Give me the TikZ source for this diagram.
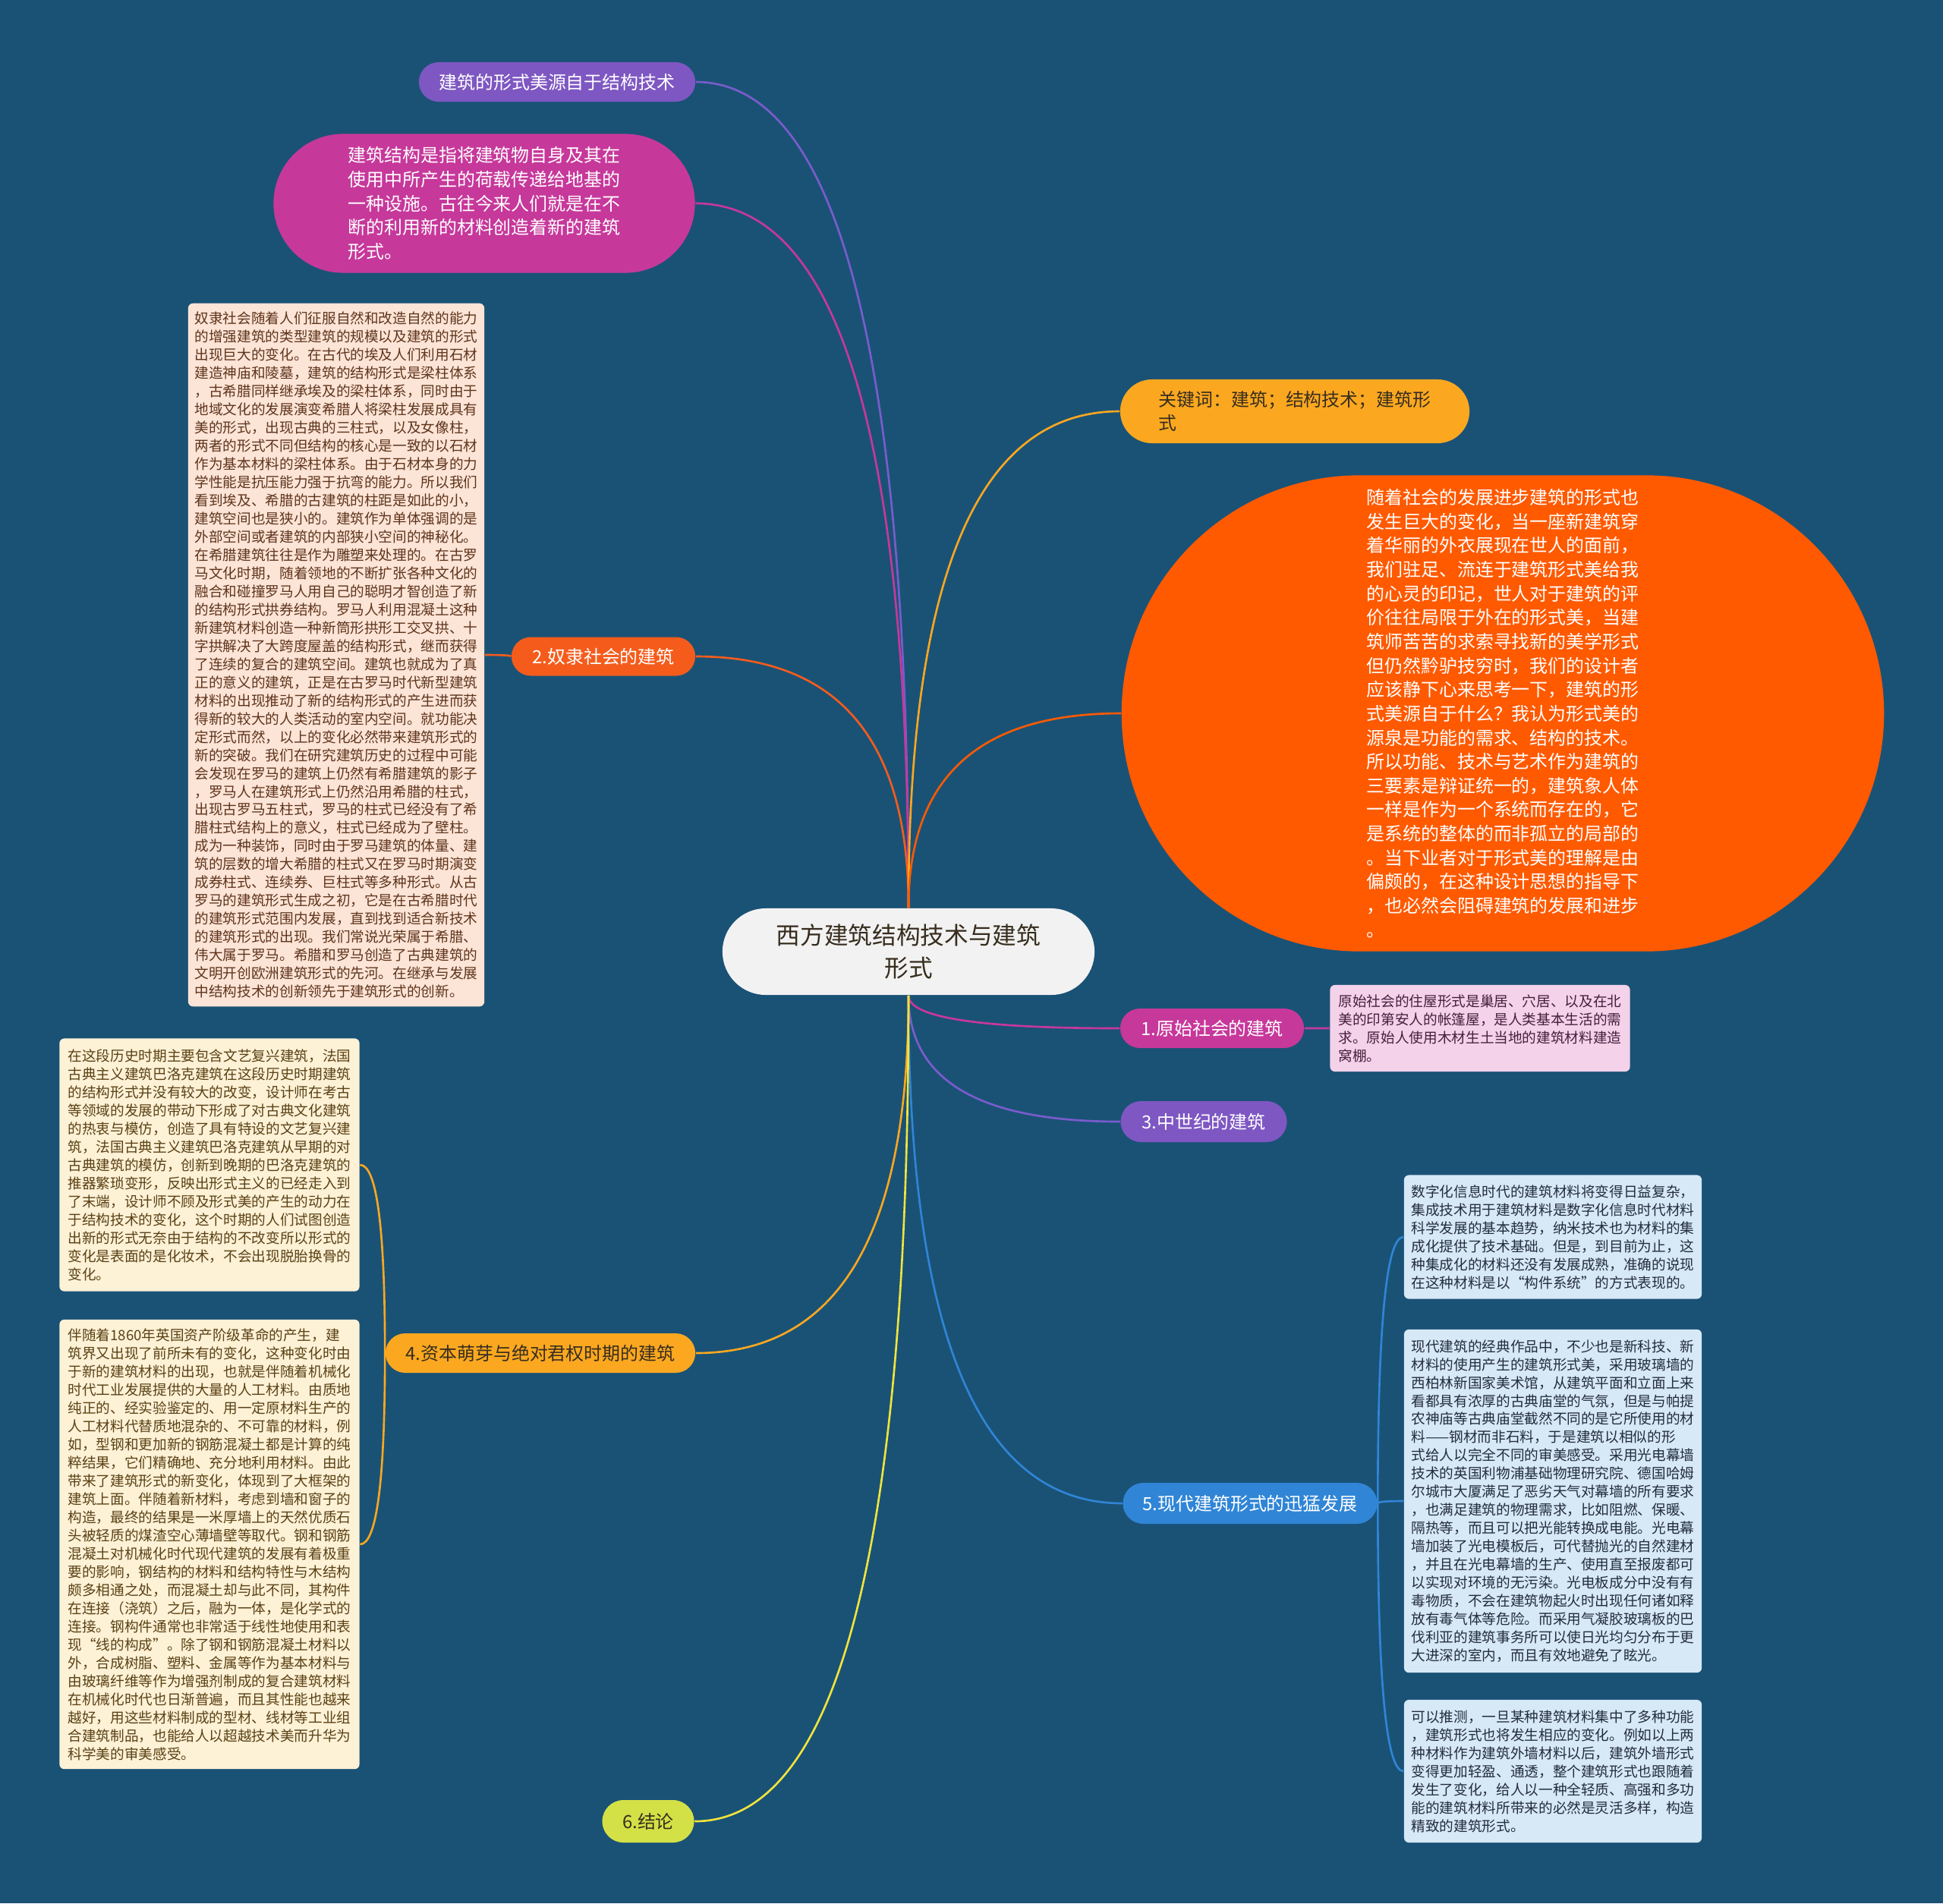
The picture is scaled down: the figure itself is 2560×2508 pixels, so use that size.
\documentclass[tikz,border=0pt]{standalone}
\usepackage{fontspec}
\setmainfont{Noto Sans CJK SC}
\usepackage{xcolor}
\usetikzlibrary{calc}

\definecolor{bgBlue}{RGB}{26,82,118}
\definecolor{rootGray}{RGB}{242,242,242}
\definecolor{nodePurple}{RGB}{126,87,194}
\definecolor{linePurple}{RGB}{122,92,204}
\definecolor{nodeMagenta}{RGB}{199,56,155}
\definecolor{nodeOrange}{RGB}{245,92,28}
\definecolor{ovalOrange}{RGB}{255,90,0}
\definecolor{nodeAmber}{RGB}{251,168,32}
\definecolor{nodeBlue}{RGB}{48,133,214}
\definecolor{nodeLime}{RGB}{212,225,70}
\definecolor{lineYellow}{RGB}{240,228,60}
\definecolor{paperPeach}{RGB}{252,228,214}
\definecolor{paperCream}{RGB}{253,241,214}
\definecolor{paperBlue}{RGB}{215,232,246}
\definecolor{paperPink}{RGB}{244,210,234}
\definecolor{inkDark}{RGB}{55,45,30}
\definecolor{inkBrown}{RGB}{94,52,28}
\definecolor{inkOlive}{RGB}{90,65,20}
\definecolor{inkNavy}{RGB}{35,45,60}
\definecolor{inkPlum}{RGB}{70,30,60}

\newcommand{\notefont}{\fontsize{5.3pt}{6.82pt}\selectfont}
\newcommand{\topicfont}{\fontsize{6.8pt}{9pt}\selectfont}
\newcommand{\rootfont}{\fontsize{9pt}{12pt}\selectfont}

\begin{document}
\begin{tikzpicture}[
    x=0.01cm, y=0.01cm,
    topic/.style={rounded corners=#1, inner sep=0pt, align=center, font=\topicfont},
    note/.style={fill=#1, rounded corners=1.8pt, inner sep=0pt, align=left, font=\notefont},
    link/.style={draw=#1, line width=0.75pt},
    branch/.style={to path={.. controls ($(\tikztostart)!0.67!(\tikztostart |- \tikztotarget)$) and ($(\tikztotarget)!0.67!(\tikztostart |- \tikztotarget)$) .. (\tikztotarget)}}
]

    % Background
    \useasboundingbox (0,0) rectangle (2560,-2508);
    \fill[bgBlue] (0,0) rectangle (2560,-2508);

    % Root
    \node[topic=0.57cm, fill=rootGray, text=inkDark, font=\rootfont, minimum width=4.9cm, minimum height=1.14cm] (root) at (1197,-1254) {西方建筑结构技术与建筑\\形式};

    % Left topics
    \node[topic=0.26cm, fill=nodePurple, text=white, minimum width=3.64cm, minimum height=0.52cm] (beauty) at (734,-108) {建筑的形式美源自于结构技术};
    \node[topic=0.915cm, fill=nodeMagenta, text=white, align=left, minimum width=5.55cm, minimum height=1.83cm] (define) at (638,-268) {建筑结构是指将建筑物自身及其在\\使用中所产生的荷载传递给地基的\\一种设施。古往今来人们就是在不\\断的利用新的材料创造着新的建筑\\形式。};
    \node[topic=0.255cm, fill=nodeOrange, text=white, minimum width=2.42cm, minimum height=0.51cm] (slave) at (795,-865) {2.奴隶社会的建筑};
    \node[topic=0.26cm, fill=nodeAmber, text=inkDark, minimum width=4.08cm, minimum height=0.52cm] (capital) at (712,-1783) {4.资本萌芽与绝对君权时期的建筑};
    \node[topic=0.28cm, fill=nodeLime, text=inkDark, minimum width=1.21cm, minimum height=0.56cm] (result) at (854,-2400) {6.结论};

    % Right topics
    \node[topic=0.42cm, fill=nodeAmber, text=inkDark, align=left, minimum width=4.6cm, minimum height=0.84cm] (keyword) at (1706,-542) {关键词：建筑；结构技术；建筑形\\式};
    \node[topic=3.135cm, fill=ovalOrange, text=white, align=left, minimum width=10.04cm, minimum height=6.27cm] (essay) at (1980,-940) {随着社会的发展进步建筑的形式也\\发生巨大的变化，当一座新建筑穿\\着华丽的外衣展现在世人的面前，\\我们驻足、流连于建筑形式美给我\\的心灵的印记，世人对于建筑的评\\价往往局限于外在的形式美，当建\\筑师苦苦的求索寻找新的美学形式\\但仍然黔驴技穷时，我们的设计者\\应该静下心来思考一下，建筑的形\\式美源自于什么？我认为形式美的\\源泉是功能的需求、结构的技术。\\所以功能、技术与艺术作为建筑的\\三要素是辩证统一的，建筑象人体\\一样是作为一个系统而存在的，它\\是系统的整体的而非孤立的局部的\\。当下业者对于形式美的理解是由\\偏颇的，在这种设计思想的指导下\\，也必然会阻碍建筑的发展和进步\\。};
    \node[topic=0.26cm, fill=nodeMagenta, text=white, minimum width=2.42cm, minimum height=0.52cm] (primitive) at (1597,-1355) {1.原始社会的建筑};
    \node[topic=0.27cm, fill=nodePurple, text=white, minimum width=2.19cm, minimum height=0.54cm] (medieval) at (1586,-1478) {3.中世纪的建筑};
    \node[topic=0.27cm, fill=nodeBlue, text=white, minimum width=3.35cm, minimum height=0.54cm] (modern) at (1647,-1981) {5.现代建筑形式的迅猛发展};

    % Notes
    \node[note=paperPeach, text=inkBrown, minimum width=3.9cm, minimum height=9.26cm] (slaveNote) at (443,-863) {奴隶社会随着人们征服自然和改造自然的能力\\的增强建筑的类型建筑的规模以及建筑的形式\\出现巨大的变化。在古代的埃及人们利用石材\\建造神庙和陵墓，建筑的结构形式是梁柱体系\\，古希腊同样继承埃及的梁柱体系，同时由于\\地域文化的发展演变希腊人将梁柱发展成具有\\美的形式，出现古典的三柱式，以及女像柱，\\两者的形式不同但结构的核心是一致的以石材\\作为基本材料的梁柱体系。由于石材本身的力\\学性能是抗压能力强于抗弯的能力。所以我们\\看到埃及、希腊的古建筑的柱距是如此的小，\\建筑空间也是狭小的。建筑作为单体强调的是\\外部空间或者建筑的内部狭小空间的神秘化。\\在希腊建筑往往是作为雕塑来处理的。在古罗\\马文化时期，随着领地的不断扩张各种文化的\\融合和碰撞罗马人用自己的聪明才智创造了新\\的结构形式拱券结构。罗马人利用混凝土这种\\新建筑材料创造一种新筒形拱形工交叉拱、十\\字拱解决了大跨度屋盖的结构形式，继而获得\\了连续的复合的建筑空间。建筑也就成为了真\\正的意义的建筑，正是在古罗马时代新型建筑\\材料的出现推动了新的结构形式的产生进而获\\得新的较大的人类活动的室内空间。就功能决\\定形式而然，以上的变化必然带来建筑形式的\\新的突破。我们在研究建筑历史的过程中可能\\会发现在罗马的建筑上仍然有希腊建筑的影子\\，罗马人在建筑形式上仍然沿用希腊的柱式，\\出现古罗马五柱式，罗马的柱式已经没有了希\\腊柱式结构上的意义，柱式已经成为了壁柱。\\成为一种装饰，同时由于罗马建筑的体量、建\\筑的层数的增大希腊的柱式又在罗马时期演变\\成券柱式、连续券、巨柱式等多种形式。从古\\罗马的建筑形式生成之初，它是在古希腊时代\\的建筑形式范围内发展，直到找到适合新技术\\的建筑形式的出现。我们常说光荣属于希腊、\\伟大属于罗马。希腊和罗马创造了古典建筑的\\文明开创欧洲建筑形式的先河。在继承与发展\\中结构技术的创新领先于建筑形式的创新。};
    \node[note=paperPink, text=inkPlum, minimum width=3.95cm, minimum height=1.14cm] (primitiveNote) at (1950,-1355) {原始社会的住屋形式是巢居、穴居、以及在北\\美的印第安人的帐篷屋，是人类基本生活的需\\求。原始人使用木材生土当地的建筑材料建造\\窝棚。};
    \node[note=paperCream, text=inkOlive, minimum width=3.95cm, minimum height=3.33cm] (renaissanceNote) at (276,-1535) {在这段历史时期主要包含文艺复兴建筑，法国\\古典主义建筑巴洛克建筑在这段历史时期建筑\\的结构形式并没有较大的改变，设计师在考古\\等领域的发展的带动下形成了对古典文化建筑\\的热衷与模仿，创造了具有特设的文艺复兴建\\筑，法国古典主义建筑巴洛克建筑从早期的对\\古典建筑的模仿，创新到晚期的巴洛克建筑的\\推器繁琐变形，反映出形式主义的已经走入到\\了末端，设计师不顾及形式美的产生的动力在\\于结构技术的变化，这个时期的人们试图创造\\出新的形式无奈由于结构的不改变所以形式的\\变化是表面的是化妆术，不会出现脱胎换骨的\\变化。};
    \node[note=paperCream, text=inkOlive, minimum width=3.95cm, minimum height=5.92cm] (industryNote) at (276,-2035) {伴随着1860年英国资产阶级革命的产生，建\\筑界又出现了前所未有的变化，这种变化时由\\于新的建筑材料的出现，也就是伴随着机械化\\时代工业发展提供的大量的人工材料。由质地\\纯正的、经实验鉴定的、用一定原材料生产的\\人工材料代替质地混杂的、不可靠的材料，例\\如，型钢和更加新的钢筋混凝土都是计算的纯\\粹结果，它们精确地、充分地利用材料。由此\\带来了建筑形式的新变化，体现到了大框架的\\建筑上面。伴随着新材料，考虑到墙和窗子的\\构造，最终的结果是一米厚墙上的天然优质石\\头被轻质的煤渣空心薄墙壁等取代。钢和钢筋\\混凝土对机械化时代现代建筑的发展有着极重\\要的影响，钢结构的材料和结构特性与木结构\\颇多相通之处，而混凝土却与此不同，其构件\\在连接（浇筑）之后，融为一体，是化学式的\\连接。钢构件通常也非常适于线性地使用和表\\现“线的构成”。除了钢和钢筋混凝土材料以\\外，合成树脂、塑料、金属等作为基本材料与\\由玻璃纤维等作为增强剂制成的复合建筑材料\\在机械化时代也日渐普遍，而且其性能也越来\\越好，用这些材料制成的型材、线材等工业组\\合建筑制品，也能给人以超越技术美而升华为\\科学美的审美感受。};
    \node[note=paperBlue, text=inkNavy, minimum width=3.92cm, minimum height=1.63cm] (digitalNote) at (2046,-1630) {数字化信息时代的建筑材料将变得日益复杂，\\集成技术用于建筑材料是数字化信息时代材料\\科学发展的基本趋势，纳米技术也为材料的集\\成化提供了技术基础。但是，到目前为止，这\\种集成化的材料还没有发展成熟，准确的说现\\在这种材料是以“构件系统”的方式表现的。};
    \node[note=paperBlue, text=inkNavy, minimum width=3.92cm, minimum height=4.52cm] (classicNote) at (2046,-1978) {现代建筑的经典作品中，不少也是新科技、新\\材料的使用产生的建筑形式美，采用玻璃墙的\\西柏林新国家美术馆，从建筑平面和立面上来\\看都具有浓厚的古典庙堂的气氛，但是与帕提\\农神庙等古典庙堂截然不同的是它所使用的材\\料——钢材而非石料，于是建筑以相似的形\\式给人以完全不同的审美感受。采用光电幕墙\\技术的英国利物浦基础物理研究院、德国哈姆\\尔城市大厦满足了恶劣天气对幕墙的所有要求\\，也满足建筑的物理需求，比如阻燃、保暖、\\隔热等，而且可以把光能转换成电能。光电幕\\墙加装了光电模板后，可代替抛光的自然建材\\，并且在光电幕墙的生产、使用直至报废都可\\以实现对环境的无污染。光电板成分中没有有\\毒物质，不会在建筑物起火时出现任何诸如释\\放有毒气体等危险。而采用气凝胶玻璃板的巴\\伐利亚的建筑事务所可以使日光均匀分布于更\\大进深的室内，而且有效地避免了眩光。};
    \node[note=paperBlue, text=inkNavy, minimum width=3.92cm, minimum height=1.88cm] (futureNote) at (2046,-2334) {可以推测，一旦某种建筑材料集中了多种功能\\，建筑形式也将发生相应的变化。例如以上两\\种材料作为建筑外墙材料以后，建筑外墙形式\\变得更加轻盈、通透，整个建筑形式也跟随着\\发生了变化，给人以一种全轻质、高强和多功\\能的建筑材料所带来的必然是灵活多样，构造\\精致的建筑形式。};

    % Level 1 branches (upper)
    \draw[link=linePurple] (root.north) to[branch] (beauty.east);
    \draw[link=nodeMagenta] (root.north) to[branch] (define.east);
    \draw[link=nodeOrange] (root.north) to[branch] (slave.east);
    \draw[link=nodeAmber] (root.north) to[branch] (keyword.west);
    \draw[link=ovalOrange] (root.north) to[branch] (essay.west);

    % Level 1 branches (lower)
    \draw[link=nodeMagenta] (root.south) to[branch] (primitive.west);
    \draw[link=linePurple] (root.south) to[branch] (medieval.west);
    \draw[link=nodeBlue] (root.south) to[branch] (modern.west);
    \draw[link=nodeAmber] (root.south) to[branch] (capital.east);
    \draw[link=lineYellow] (root.south) to[branch] (result.east);

    % Level 2 branches
    \draw[link=nodeOrange] (slave.west) to[branch] (slaveNote.east);
    \draw[link=nodeMagenta] (primitive.east) to[branch] (primitiveNote.west);
    \draw[link=nodeAmber] (capital.west) to[branch] (renaissanceNote.east);
    \draw[link=nodeAmber] (capital.west) to[branch] (industryNote.east);
    \draw[link=nodeBlue] (modern.east) to[branch] (digitalNote.west);
    \draw[link=nodeBlue] (modern.east) to[branch] (classicNote.west);
    \draw[link=nodeBlue] (modern.east) to[branch] (futureNote.west);

\end{tikzpicture}
\end{document}
